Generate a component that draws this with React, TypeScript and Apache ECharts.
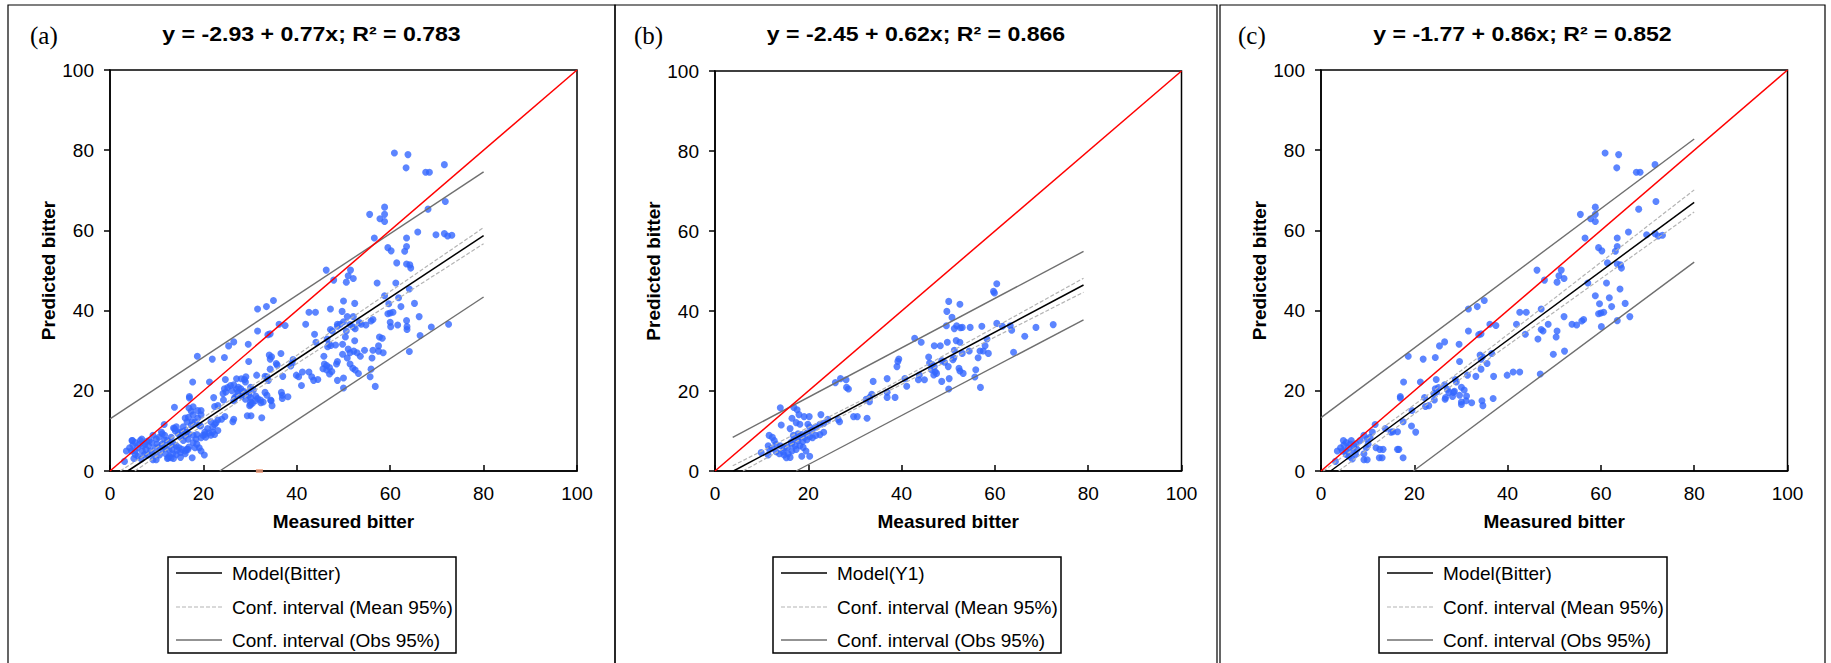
import React, { useEffect, useRef } from 'react';
import * as echarts from 'echarts';

// ---------- text ----------
const panelLabels = ['(a)', '(b)', '(c)'];
const titles = [
  'y = -2.93 + 0.77x; R² = 0.783',
  'y = -2.45 + 0.62x; R² = 0.866',
  'y = -1.77 + 0.86x; R² = 0.852',
];
const modelNames = ['Model(Bitter)', 'Model(Y1)', 'Model(Bitter)'];
const meanCiName = 'Conf. interval (Mean 95%)';
const obsCiName = 'Conf. interval (Obs 95%)';
const xAxisName = 'Measured bitter';
const yAxisName = 'Predicted bitter';
const axisMin = 0;
const axisMax = 100;
const axisInterval = 20;

// ---------- reference lines ----------
const identityLine = [[0, 0], [100, 100]];

const modelA = [[3.8, 0], [80, 58.7]];
const meanUpperA = [[2.2, 0], [30, 20.9], [80, 60.7]];
const meanLowerA = [[5.3, 0], [30, 19.3], [80, 56.7]];
const obsUpperA = [[0, 13.0], [80, 74.6]];
const obsLowerA = [[23.5, 0], [80, 43.4]];

const modelB = [[3.95, 0], [79, 46.5]];
const meanUpperB = [[3.8, 1.3], [35, 19.8], [79, 48.2]];
const meanLowerB = [[6.0, 0], [35, 18.7], [79, 44.7]];
const obsUpperB = [[3.8, 8.4], [79, 54.9]];
const obsLowerB = [[17.4, 0], [79, 37.8]];

const modelC = [[2.06, 0], [80, 67.0]];
const meanUpperC = [[0.5, 0], [30, 25.0], [80, 70.1]];
const meanLowerC = [[3.8, 0], [30, 23.0], [80, 64.6]];
const obsUpperC = [[0, 13.3], [80, 82.8]];
const obsLowerC = [[19.8, 0], [80, 52.1]];

// ---------- observations (measured, predicted) ----------
const pointsAC = [
  [60.9, 79.3], [63.8, 78.9], [63.4, 75.6], [67.6, 74.5], [68.4, 74.5], [71.6, 76.4], [71.8, 67.2], [68.1, 65.3],
  [58.8, 65.8], [58.8, 64.0], [55.6, 64.0], [57.8, 62.9], [58.8, 62.2], [56.6, 58.1], [65.9, 59.6], [63.5, 58.1],
  [69.8, 58.9], [71.6, 59.2], [72.3, 58.6], [73.2, 58.8], [59.5, 55.7], [60.2, 54.9], [63.5, 56.0], [63.1, 54.8],
  [61.4, 51.9], [63.5, 51.6], [64.2, 51.4], [64.4, 50.6], [46.3, 50.1], [51.5, 50.1], [51.0, 48.7], [52.1, 48.0],
  [47.9, 47.6], [50.6, 47.1], [57.2, 46.9], [61.2, 46.9], [64.1, 45.4], [58.8, 43.7], [61.8, 43.2], [62.3, 41.0],
  [65.2, 41.8], [59.7, 41.7], [60.0, 39.4], [60.6, 39.6], [59.5, 39.2], [47.2, 40.4], [42.6, 39.6], [44.0, 39.6],
  [52.1, 38.5], [66.2, 38.5], [63.5, 37.5], [60.1, 36.0], [41.9, 36.6], [48.7, 36.6], [53.8, 36.6], [54.8, 36.4],
  [55.9, 37.4], [56.3, 37.8], [47.2, 35.3], [47.6, 34.9], [50.6, 34.9], [43.8, 34.1], [46.5, 32.9], [50.4, 33.4],
  [52.2, 29.9], [49.8, 29.1], [47.0, 24.2], [39.9, 23.9], [41.2, 24.7], [42.6, 24.7],
  [31.6, 40.4], [33.5, 41.0], [35.0, 42.5], [36.2, 36.6], [37.5, 36.3], [31.6, 34.9], [33.8, 34.0], [34.3, 34.2],
  [25.4, 31.2], [26.5, 32.2], [29.6, 31.6], [18.7, 28.6], [21.9, 27.9], [24.5, 28.3], [29.7, 27.3], [34.1, 28.9],
  [34.6, 28.5], [34.3, 27.9], [36.6, 29.3], [35.6, 26.8], [34.3, 25.4], [31.4, 23.9], [33.2, 23.6], [37.0, 23.6],
  [28.8, 22.8], [29.0, 22.2], [17.7, 22.2], [21.3, 22.2], [24.7, 22.8], [26.5, 21.5], [24.5, 20.5], [25.2, 20.8],
  [27.1, 20.4], [28.6, 19.9], [30.1, 20.9], [30.7, 20.2], [24.8, 19.7], [27.4, 19.6], [28.4, 19.6], [24.2, 19.3],
  [26.7, 18.3], [28.2, 18.6], [29.7, 18.9], [31.2, 18.7], [26.6, 17.9], [24.3, 17.7], [22.2, 18.3], [17.0, 18.6],
  [17.0, 18.2], [30.1, 17.2], [31.1, 17.5], [30.1, 16.6], [32.3, 17.0], [34.5, 17.5], [34.7, 16.3], [36.9, 18.1],
  [22.4, 16.1], [23.1, 16.3], [19.5, 15.1], [17.6, 12.3], [19.4, 11.2], [20.3, 9.7], [15.4, 9.8], [16.4, 9.8],
  [15.0, 9.7], [13.8, 10.6], [11.6, 11.6], [16.4, 5.4], [16.7, 5.4], [17.6, 3.3], [12.6, 5.4], [13.3, 5.4],
  [12.5, 3.3], [13.1, 3.3], [11.8, 5.8],
  [3.1, 2.4], [3.5, 5.0], [4.2, 5.8], [4.8, 7.6], [5.4, 7.1], [4.9, 6.5], [4.6, 5.0], [5.4, 5.0],
  [5.9, 5.8], [6.3, 6.7], [6.5, 7.6], [6.9, 5.0], [7.1, 6.3], [7.5, 6.7], [7.7, 5.4], [6.7, 3.0],
  [7.4, 4.1], [8.4, 7.6], [9.2, 8.9], [9.7, 5.8], [10.1, 6.7], [9.9, 8.0], [10.5, 8.4], [11.0, 9.7],
  [9.2, 4.3], [9.2, 2.8], [9.9, 2.8], [6.0, 3.7], [5.4, 4.1],
];

const pointsOnlyA = [
  [66.4, 33.8], [64.1, 29.8], [68.8, 35.9], [72.5, 36.6], [63.6, 36.0], [63.6, 35.3], [61.6, 36.4], [60.0, 37.1],
  [58.3, 33.1], [57.7, 33.4], [57.5, 31.2], [56.3, 30.1], [57.5, 29.9], [58.5, 29.5], [56.1, 28.2], [55.9, 25.4],
  [55.7, 23.5], [56.8, 21.1], [53.4, 37.0], [52.1, 35.9], [52.5, 35.5], [51.4, 36.5], [50.0, 37.2], [49.3, 36.6],
  [48.7, 36.1], [50.0, 42.4], [49.7, 39.8], [50.8, 38.5], [52.4, 41.8], [52.4, 32.5], [49.8, 31.6], [51.0, 30.4],
  [51.4, 29.5], [50.8, 28.2], [48.7, 27.3], [48.5, 26.7], [45.8, 28.6], [46.6, 31.0], [47.3, 31.3], [46.9, 31.6],
  [48.3, 31.4], [45.9, 26.7], [46.4, 26.3], [47.0, 25.8], [45.6, 25.5], [46.4, 25.2], [47.5, 24.8], [48.7, 22.6],
  [50.0, 23.2], [50.0, 20.7], [52.5, 25.2], [53.2, 24.3], [52.0, 25.6], [51.4, 26.7], [54.5, 30.1], [53.6, 28.6],
  [52.9, 29.5], [43.2, 23.5], [43.6, 22.6], [44.5, 22.8], [41.0, 21.3], [40.4, 23.5], [39.2, 27.8], [39.0, 26.9],
  [38.7, 26.2], [44.1, 32.1],
  [38.1, 18.5], [36.9, 18.9], [36.7, 19.6], [35.8, 26.4], [33.6, 23.5], [33.9, 22.6], [33.2, 19.6], [33.6, 18.9],
  [34.4, 17.7], [32.5, 13.3], [30.2, 13.8], [29.4, 13.8], [31.6, 18.1], [32.2, 17.7], [32.8, 17.2], [30.5, 16.9],
  [29.9, 16.3], [29.7, 19.6], [30.1, 18.3], [29.0, 17.9], [28.0, 19.0], [27.1, 18.7], [26.5, 17.5], [28.0, 20.5],
  [27.5, 20.9], [27.1, 23.0], [28.1, 23.0], [29.1, 23.5], [26.1, 20.0], [25.8, 21.3], [26.5, 12.9], [26.3, 12.3],
  [24.6, 13.6], [23.9, 12.9], [23.1, 12.7], [22.4, 11.6], [22.7, 12.0], [23.1, 10.1], [22.0, 11.0], [21.6, 12.3],
  [20.9, 10.6], [21.2, 9.5], [20.3, 9.1], [19.9, 8.9], [19.5, 8.3], [20.5, 8.4], [21.6, 8.9], [22.4, 9.1],
  [22.0, 9.7], [18.8, 13.2], [19.5, 14.0], [18.8, 15.1], [17.8, 16.0], [16.9, 15.7], [17.4, 14.9], [16.8, 13.4],
  [17.8, 14.0], [18.2, 12.3], [19.1, 11.4], [17.4, 11.4], [16.5, 12.3], [16.1, 13.2], [15.7, 11.0], [16.1, 10.1],
  [16.9, 9.3], [17.8, 8.9], [18.6, 9.1], [18.4, 8.0], [17.8, 7.1], [18.6, 6.7], [19.1, 5.8], [18.2, 5.8],
  [19.5, 5.0], [20.2, 4.0], [15.7, 7.6], [15.1, 8.4], [14.6, 9.3], [14.0, 10.0], [13.6, 10.7], [13.8, 15.9],
  [14.2, 11.0], [13.1, 8.4], [12.3, 7.6], [12.9, 7.1], [13.6, 6.7], [14.2, 6.3], [14.8, 5.8], [15.4, 5.4],
  [16.1, 5.0], [15.1, 4.6], [14.2, 4.1], [13.4, 4.3], [14.4, 5.2], [11.9, 4.3], [11.2, 5.4], [10.6, 6.0],
  [11.2, 6.7], [11.7, 7.7], [11.7, 8.9], [11.2, 9.3], [12.7, 3.7], [12.3, 3.1], [13.6, 3.1], [15.1, 3.4],
  [16.1, 4.3], [16.9, 6.0], [16.7, 7.9], [16.1, 8.8],
  [4.7, 7.6], [6.8, 8.0], [7.9, 7.4], [8.9, 7.1], [8.3, 6.3], [8.7, 5.0], [8.1, 4.0], [10.6, 4.0], [5.1, 3.1],
];

const markerA = [[32, 0]];

const pointsB = [
  [60.4, 46.8], [59.7, 44.9], [59.9, 44.5], [50.1, 42.4], [52.5, 41.7], [49.7, 39.9], [50.8, 38.4], [49.6, 36.3],
  [51.3, 35.6], [51.8, 36.3], [52.6, 35.8], [53.0, 35.9], [54.7, 35.9], [57.2, 36.2], [60.4, 36.9], [61.6, 36.2],
  [63.3, 36.3], [63.6, 35.2], [68.8, 35.9], [72.5, 36.6], [66.4, 33.7], [64.0, 29.7], [58.3, 33.0], [57.9, 31.3],
  [58.6, 29.4], [57.5, 30.0], [56.8, 30.0], [56.4, 28.3], [55.9, 25.3], [55.7, 23.5], [56.9, 20.9], [54.5, 30.0],
  [53.0, 29.4], [51.3, 30.2], [51.7, 32.6], [52.5, 32.2], [49.8, 32.2], [51.2, 28.3], [51.0, 27.8], [50.0, 26.1],
  [48.6, 27.6], [49.2, 27.2], [52.3, 25.7], [52.5, 25.0], [53.2, 24.4], [50.2, 23.1], [50.1, 20.5], [48.6, 22.4],
  [47.0, 31.3], [48.3, 31.3], [45.8, 28.5], [46.0, 27.0], [46.6, 26.6], [47.0, 26.1], [46.4, 25.3], [47.2, 24.8],
  [47.5, 24.4], [46.9, 24.0], [42.8, 33.2], [44.2, 32.2], [43.8, 24.0], [43.6, 22.8], [44.9, 22.8], [40.7, 23.1],
  [41.1, 21.2], [39.4, 28.0], [39.2, 27.4], [39.0, 26.1], [38.6, 18.4], [36.9, 23.1], [36.9, 19.7], [36.9, 18.4],
  [33.9, 22.4], [33.6, 19.2], [33.2, 18.4], [32.4, 17.9], [33.1, 17.3], [32.6, 13.2], [29.7, 13.6], [30.5, 13.6],
  [25.8, 22.1], [26.9, 23.1], [28.1, 22.8], [28.2, 20.9], [28.6, 20.5], [24.2, 12.9], [26.4, 12.9], [26.7, 12.3],
  [22.7, 14.1],
  [14.0, 15.8], [16.9, 15.9], [17.6, 15.3], [18.0, 14.1], [19.1, 13.6], [20.2, 13.6], [16.5, 13.2], [17.4, 12.1],
  [18.2, 11.7], [14.2, 11.5], [16.1, 10.6], [19.9, 11.7], [20.3, 11.0], [21.6, 11.0], [22.5, 11.7], [23.3, 11.9],
  [23.3, 9.7], [20.8, 10.2], [19.7, 9.5], [18.6, 9.1], [17.8, 9.3], [16.8, 8.9], [18.1, 8.6], [19.2, 8.4],
  [20.3, 8.6], [21.6, 8.9], [22.5, 9.1], [20.9, 8.3], [19.7, 7.8], [18.8, 7.4], [17.8, 7.6], [16.9, 7.8],
  [16.4, 6.7], [15.5, 5.9], [14.8, 5.7], [14.0, 6.3], [13.1, 6.7], [12.7, 7.6], [12.3, 8.4], [11.6, 8.9],
  [11.4, 6.3], [11.7, 5.4], [12.3, 5.7], [13.1, 4.8], [13.8, 4.3], [14.8, 4.0], [15.7, 4.3], [16.5, 5.0],
  [17.4, 5.4], [18.2, 6.3], [18.9, 5.9], [19.5, 5.0], [18.6, 3.7], [20.3, 3.7], [9.9, 4.6], [11.4, 4.0],
  [15.3, 3.3], [16.1, 3.4], [14.6, 4.8], [17.2, 6.3], [16.3, 7.2],
];

const FONT = "'Liberation Sans', Arial, sans-serif";
const SERIF = "'Liberation Serif', 'Times New Roman', serif";
const BLUE = '#3366ff';
const OBS_GRAY = '#6f6f6f';
const MEAN_GRAY = '#b4b4b4';

const panels = [
  {
    grid: { left: 110, top: 70, width: 467, height: 401 },
    frame: [8, 615], labelX: 30, legendX: 168,
    points: [...pointsAC, ...pointsOnlyA],
    model: modelA, meanU: meanUpperA, meanL: meanLowerA, obsU: obsUpperA, obsL: obsLowerA,
  },
  {
    grid: { left: 715, top: 71, width: 466.5, height: 400 },
    frame: [615, 1217], labelX: 634, legendX: 773,
    points: pointsB,
    model: modelB, meanU: meanUpperB, meanL: meanLowerB, obsU: obsUpperB, obsL: obsLowerB,
  },
  {
    grid: { left: 1321, top: 70, width: 466.5, height: 401 },
    frame: [1220, 1825], labelX: 1238, legendX: 1379,
    points: pointsAC,
    model: modelC, meanU: meanUpperC, meanL: meanLowerC, obsU: obsUpperC, obsL: obsLowerC,
  },
];

function buildOption() {
  const grids: any[] = [];
  const xAxes: any[] = [];
  const yAxes: any[] = [];
  const series: any[] = [];
  const graphic: any[] = [];

  panels.forEach((p, i) => {
    grids.push({ ...p.grid, show: true, borderColor: '#000', borderWidth: 1.5, backgroundColor: 'transparent', containLabel: false });
    const axisCommon = {
      type: 'value', gridIndex: i, min: axisMin, max: axisMax, interval: axisInterval,
      splitLine: { show: false },
      axisLine: { show: true, onZero: false, lineStyle: { color: '#000', width: 1.5 } },
      axisLabel: { color: '#000', fontSize: 19, fontFamily: FONT },
      nameLocation: 'middle',
      nameTextStyle: { color: '#000', fontSize: 19, fontWeight: 'bold', fontFamily: FONT },
    };
    xAxes.push({
      ...axisCommon,
      name: xAxisName, nameGap: 41,
      axisTick: { show: true, inside: true, length: 6, lineStyle: { color: '#000', width: 1.5 } },
      axisLabel: { ...axisCommon.axisLabel, margin: 13 },
    });
    yAxes.push({
      ...axisCommon,
      name: yAxisName, nameGap: 52,
      axisTick: { show: true, inside: false, length: 6, lineStyle: { color: '#000', width: 1.5 } },
      axisLabel: { ...axisCommon.axisLabel, margin: 16 },
    });

    const ax = { xAxisIndex: i, yAxisIndex: i };
    series.push({
      type: 'scatter', ...ax, name: 'Observations', data: p.points,
      symbol: 'circle', symbolSize: 7, itemStyle: { color: BLUE }, z: 2, silent: true,
    });
    if (i === 0) {
      series.push({
        type: 'scatter', ...ax, name: 'Marker', data: markerA,
        symbol: 'rect', symbolSize: [7, 4], itemStyle: { color: '#f0a080' }, z: 2, silent: true,
      });
    }
    const line = (data: number[][], color: string, width: number, dash?: any, z = 3) => ({
      type: 'line', ...ax, data, showSymbol: false, symbol: 'none', clip: true, silent: true, z,
      lineStyle: { color, width, type: dash || 'solid' },
    });
    series.push(line(p.obsU, OBS_GRAY, 1.4));
    series.push(line(p.obsL, OBS_GRAY, 1.4));
    series.push(line(p.meanU, MEAN_GRAY, 1.2, [4, 2]));
    series.push(line(p.meanL, MEAN_GRAY, 1.2, [4, 2]));
    series.push(line(p.model, '#000', 1.5, undefined, 4));
    series.push(line(identityLine, '#ff0000', 1.5, undefined, 5));

    // panel frame
    const [fl, fr] = p.frame;
    graphic.push({
      type: 'rect', silent: true, z: 0,
      shape: { x: fl, y: 5, width: fr - fl, height: 700 },
      style: { fill: 'transparent', stroke: '#000', lineWidth: 1.2 },
    });
    // panel label
    graphic.push({
      type: 'text', x: p.labelX, y: 35, silent: true,
      style: { text: panelLabels[i], fontSize: 25, fontFamily: SERIF, fill: '#000', align: 'left', verticalAlign: 'middle' },
    });
    // title
    graphic.push({
      type: 'text', x: (fl + fr) / 2, y: 34, scaleX: 1.1, silent: true,
      style: { text: titles[i], fontSize: 21, fontWeight: 'bold', fontFamily: FONT, fill: '#000', align: 'center', verticalAlign: 'middle' },
    });
    // legend
    const L = p.legendX;
    graphic.push({
      type: 'rect', silent: true,
      shape: { x: L, y: 557, width: 288, height: 96 },
      style: { fill: '#fff', stroke: '#000', lineWidth: 1.5 },
    });
    const rows = [
      { y: 573, text: modelNames[i], stroke: '#000', dash: null, w: 1.5 },
      { y: 607, text: meanCiName, stroke: MEAN_GRAY, dash: [4, 2], w: 1.2 },
      { y: 640, text: obsCiName, stroke: OBS_GRAY, dash: null, w: 1.5 },
    ];
    rows.forEach((r) => {
      graphic.push({
        type: 'line', silent: true,
        shape: { x1: L + 8, y1: r.y, x2: L + 54, y2: r.y },
        style: { stroke: r.stroke, lineWidth: r.w, lineDash: r.dash || undefined },
      });
      graphic.push({
        type: 'text', x: L + 64, y: r.y, silent: true,
        style: { text: r.text, fontSize: 19, fontFamily: FONT, fill: '#000', align: 'left', verticalAlign: 'middle' },
      });
    });
  });

  return {
    animation: false,
    backgroundColor: '#fff',
    grid: grids,
    xAxis: xAxes,
    yAxis: yAxes,
    series,
    graphic,
  };
}

export default function App() {
  const ref = useRef<HTMLDivElement>(null);
  useEffect(() => {
    if (!ref.current) return;
    const chart = echarts.init(ref.current, undefined, { renderer: 'svg' });
    chart.setOption(buildOption() as any);
    return () => chart.dispose();
  }, []);
  return (
    <div
      ref={ref}
      style={{ position: 'fixed', left: 0, top: 0, width: 1831, height: 663, background: '#fff' }}
    />
  );
}
